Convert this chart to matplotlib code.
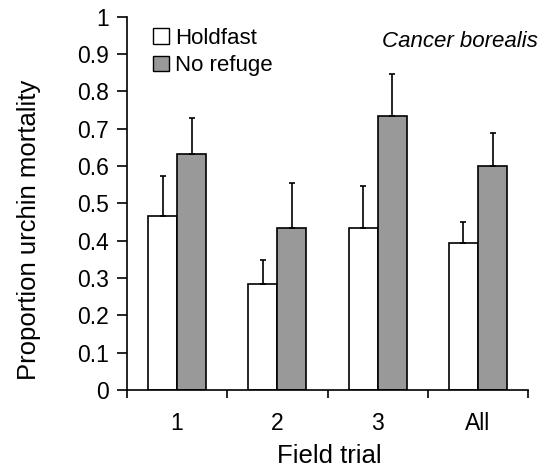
import matplotlib
matplotlib.use("Agg")
import matplotlib.pyplot as plt
import numpy as np
from matplotlib.patches import Patch

plt.rcParams['font.family'] = ['Liberation Sans', 'DejaVu Sans']

categories = ["1", "2", "3", "All"]
holdfast = [0.467, 0.283, 0.433, 0.394]
holdfast_err = [0.106, 0.066, 0.114, 0.056]
norefuge = [0.633, 0.433, 0.733, 0.600]
norefuge_err = [0.096, 0.122, 0.113, 0.089]
yticks = [0, 0.1, 0.2, 0.3, 0.4, 0.5, 0.6, 0.7, 0.8, 0.9, 1]
ytick_labels = ["0", "0.1", "0.2", "0.3", "0.4", "0.5", "0.6", "0.7", "0.8", "0.9", "1"]

fig = plt.figure(figsize=(5.45, 4.68), dpi=100)
ax = fig.add_axes([0.233, 0.167, 0.736, 0.797])

x = np.arange(len(categories))
w = 0.29
ekw = dict(ecolor='black', elinewidth=1.2, capsize=2.5, capthick=1.2)
ax.bar(x - w/2, holdfast, w, color='white', edgecolor='black', linewidth=1.2,
       yerr=[np.zeros(len(holdfast)), holdfast_err], error_kw=ekw, zorder=2)
ax.bar(x + w/2, norefuge, w, color='#999999', edgecolor='black', linewidth=1.2,
       yerr=[np.zeros(len(norefuge)), norefuge_err], error_kw=ekw, zorder=2)

ax.set_xlim(-0.5, len(categories) - 0.5)
ax.set_ylim(0, 1)
ax.set_yticks(yticks)
ax.set_yticklabels(ytick_labels, fontsize=16.5)
ax.set_xticks(x)
ax.set_xticklabels(categories, fontsize=16.5)
ax.tick_params(axis='x', which='major', length=0, pad=16)
ax.set_xticks(np.arange(-0.5, len(categories)), minor=True)
ax.tick_params(axis='x', which='minor', length=6, width=1.2, direction='out')
ax.tick_params(axis='y', length=7, width=1.2, direction='out', pad=6)

for s in ['top', 'right']:
    ax.spines[s].set_visible(False)
for s in ['left', 'bottom']:
    ax.spines[s].set_linewidth(1.2)

ax.set_ylabel("Proportion urchin mortality", fontsize=18.5)
ax.yaxis.set_label_coords(-0.215, 0.43)
ax.set_xlabel("Field trial", fontsize=18.5)
ax.xaxis.set_label_coords(0.505, -0.145)

handles = [Patch(facecolor='white', edgecolor='black', linewidth=1),
           Patch(facecolor='#999999', edgecolor='black', linewidth=1)]
ax.legend(handles, ["Holdfast", "No refuge"], loc='upper left', bbox_to_anchor=(0.043, 0.995),
          frameon=False, fontsize=16, handlelength=0.72, handleheight=0.72, handletextpad=0.25,
          labelspacing=0.3, borderaxespad=0)

ax.text(1.025, 0.935, "Cancer borealis", transform=ax.transAxes, ha='right', va='center',
        fontsize=16, style='italic')

fig.savefig("out.png", dpi=100)
